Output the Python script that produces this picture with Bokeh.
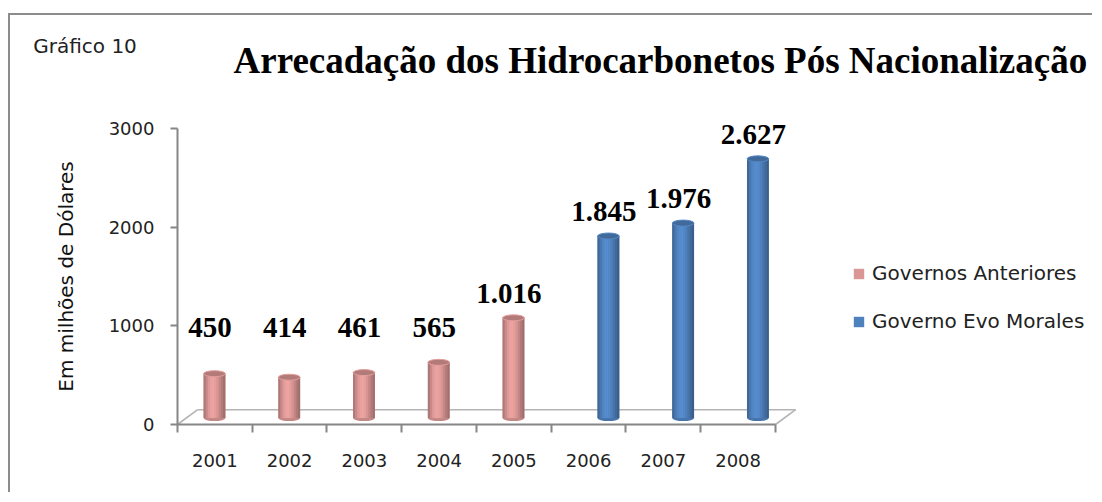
from bokeh.plotting import figure
from bokeh.models import (FixedTicker, Label, Legend, LegendItem, ColumnDataSource)
from bokeh.embed import file_html
from bokeh.resources import INLINE

# ---------------- data ----------------
years = ["2001", "2002", "2003", "2004", "2005", "2006", "2007", "2008"]
anteriores_years = ["2001", "2002", "2003", "2004", "2005"]
anteriores_values = [450, 414, 461, 565, 1016]
evo_years = ["2006", "2007", "2008"]
evo_values = [1845, 1976, 2627]
y_ticks = [0, 1000, 2000, 3000]
series_names = ["Governos Anteriores", "Governo Evo Morales"]
title_text = "Arrecadação dos Hidrocarbonetos Pós Nacionalização"
chart_number = "Gráfico 10"
y_label = "Em milhões de Dólares"

# ---------------- style ----------------
PINK = (217, 150, 148)
BLUE = (79, 129, 189)
AXIS_COL = "#868686"
FLOOR_COL = "#b4b4b4"
SANS = "DejaVu Sans"
SERIF = "Liberation Serif"

BAR_W = 0.29          # bar width in category units
DODGE = 0.135         # cluster offset for each series
DEPTH_X = 0.13        # 3D depth shift of bars (category units)
DEPTH_Y = 65          # 3D depth shift of bars (value units)
FLOOR_DX = 0.27
FLOOR_DY = 150
PROFILE = [0.80, 0.92, 1.02, 1.08, 1.09, 1.05, 0.99, 0.90, 0.82, 0.74]


def shade(rgb, f):
    return "#%02x%02x%02x" % tuple(max(0, min(255, int(round(c * f)))) for c in rgb)


p = figure(width=1084, height=479, output_backend="svg", toolbar_location=None,
           x_range=(-2.234, 12.268), y_range=(-709.5, 4145),
           min_border_left=0, min_border_right=0, min_border_top=0,
           min_border_bottom=0, title=None)
p.styles = {"border-top": "2px solid #8c8c8c", "border-left": "2px solid #8c8c8c",
            "margin-top": "13px", "margin-left": "8px"}
p.background_fill_color = "white"
p.border_fill_color = "white"
p.outline_line_color = None
p.xgrid.visible = False
p.ygrid.visible = False

# ---- floor (3D base) ----
p.segment(x0=[0, FLOOR_DX, len(years)], y0=[0, FLOOR_DY, 0],
          x1=[FLOOR_DX, len(years) + FLOOR_DX, len(years) + FLOOR_DX],
          y1=[FLOOR_DY, FLOOR_DY, FLOOR_DY],
          line_color=FLOOR_COL, line_width=1.6)


def cylinders(cat_list, vals, rgb, dodge):
    xs = [years.index(c) + 0.5 + dodge + DEPTH_X for c in cat_list]
    # bottom ellipse
    p.ellipse(x=xs, y=[DEPTH_Y] * len(xs), width=BAR_W, height=6,
              height_units="screen", fill_color=shade(rgb, 0.9), line_color=None)
    # main body (used for legend)
    body = p.vbar(x=xs, width=BAR_W, top=[v + DEPTH_Y for v in vals],
                  bottom=DEPTH_Y, fill_color=shade(rgb, 1.0), line_color=None)
    n = len(PROFILE)
    sx, sw, st, sc = [], [], [], []
    for x, v in zip(xs, vals):
        for k, f in enumerate(PROFILE):
            sx.append(x - BAR_W / 2 + (k + 0.5) * BAR_W / n)
            sw.append(BAR_W / n * 1.08)
            st.append(v + DEPTH_Y)
            sc.append(shade(rgb, f))
    src = ColumnDataSource(dict(x=sx, w=sw, top=st, c=sc))
    p.vbar(x="x", width="w", top="top", bottom=DEPTH_Y, fill_color="c",
           line_color=None, source=src)
    # top ellipse
    p.ellipse(x=xs, y=[v + DEPTH_Y for v in vals], width=BAR_W, height=6,
              height_units="screen", fill_color=shade(rgb, 0.82),
              line_color=shade(rgb, 1.05), line_width=1)
    # value labels
    for x, v in zip(xs, vals):
        txt = f"{v:,}".replace(",", ".")
        p.add_layout(Label(x=x - 0.06, y=max(v + 310, 980), text=txt,
                           text_align="center", text_baseline="middle",
                           text_font=SERIF, text_font_style="bold",
                           text_font_size="29px", text_color="black"))
    return body


r1 = cylinders(anteriores_years, anteriores_values, PINK, -DODGE)
r2 = cylinders(evo_years, evo_values, BLUE, DODGE)

# ---- axes ----
yax = p.yaxis[0]
yax.fixed_location = 0
yax.ticker = FixedTicker(ticks=y_ticks, minor_ticks=[])
yax.bounds = (0, 3000)
yax.axis_line_color = AXIS_COL
yax.axis_line_width = 2
yax.major_tick_line_color = AXIS_COL
yax.major_tick_line_width = 2
yax.major_tick_out = 7
yax.major_tick_in = 0
yax.minor_tick_line_color = None
yax.major_label_standoff = 16
yax.major_label_text_font = SANS
yax.major_label_text_font_size = "18px"
yax.major_label_text_color = "#222222"
yax.axis_label = y_label
yax.axis_label_text_font = SANS
yax.axis_label_text_font_size = "20px"
yax.axis_label_text_font_style = "normal"
yax.axis_label_text_color = "#111111"
yax.axis_label_standoff = 28

xax = p.xaxis[0]
xax.fixed_location = 0
centers = [i + 0.5 for i in range(len(years))]
xax.ticker = FixedTicker(ticks=centers, minor_ticks=list(range(len(years) + 1)))
xax.major_label_overrides = {c: y for c, y in zip(centers, years)}
xax.bounds = (0, len(years))
xax.axis_line_color = AXIS_COL
xax.axis_line_width = 2
xax.major_tick_line_color = None
xax.major_tick_out = 0
xax.major_tick_in = 0
xax.minor_tick_line_color = AXIS_COL
xax.minor_tick_line_width = 2
xax.minor_tick_out = 8
xax.minor_tick_in = 0
xax.major_label_standoff = 22
xax.major_label_text_font = SANS
xax.major_label_text_font_size = "18px"
xax.major_label_text_color = "#222222"

# ---- titles ----
p.add_layout(Label(x=0.75, y=3690, text=title_text, text_baseline="middle",
                   text_font=SERIF, text_font_style="bold", text_font_size="37px",
                   text_color="black"))
p.add_layout(Label(x=-1.93, y=3840, text=chart_number, text_baseline="middle",
                   text_font=SANS, text_font_size="20px", text_color="#222222"))

# ---- legend ----
legend = Legend(items=[LegendItem(label=series_names[0], renderers=[r1]),
                       LegendItem(label=series_names[1], renderers=[r2])],
                location=(842, 161), orientation="vertical",
                glyph_width=13, glyph_height=13, label_standoff=7, spacing=24,
                padding=0, margin=0, border_line_color=None,
                background_fill_alpha=0,
                label_text_font=SANS, label_text_font_size="20px",
                label_text_color="#222222")
p.add_layout(legend)

open("out.html", "w").write(file_html(p, INLINE))
